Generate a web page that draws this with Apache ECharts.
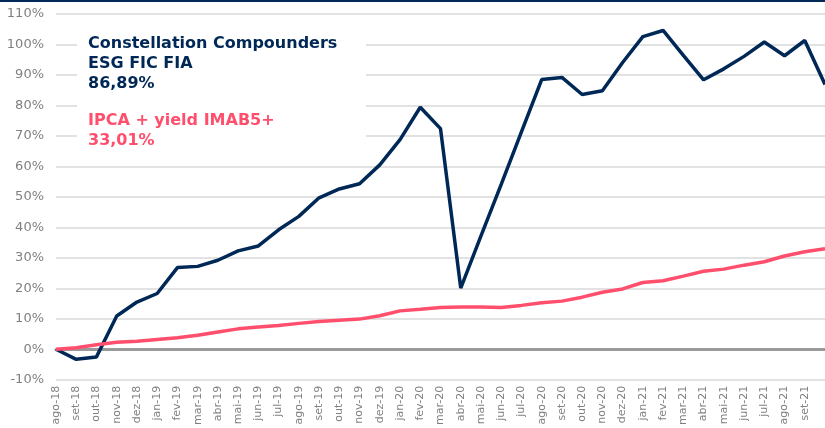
<!DOCTYPE html>
<html>
<head>
<meta charset="utf-8">
<script src="https://cdn.jsdelivr.net/npm/echarts@6/dist/echarts.min.js"></script>
<style>
  html, body { margin: 0; padding: 0; background: #fff; }
  #main { width: 825px; height: 428px; }
</style>
</head>
<body>
<div id="main"></div>
<script>
// months, ago-18 .. out-21 (last one sits just past the right edge)
const months = ['ago-18','set-18','out-18','nov-18','dez-18',
  'jan-19','fev-19','mar-19','abr-19','mai-19','jun-19','jul-19','ago-19','set-19','out-19','nov-19','dez-19',
  'jan-20','fev-20','mar-20','abr-20','mai-20','jun-20','jul-20','ago-20','set-20','out-20','nov-20','dez-20',
  'jan-21','fev-21','mar-21','abr-21','mai-21','jun-21','jul-21','ago-21','set-21','out-21'];

const fundo = [0, -3.3, -2.5, 10.9, 15.5, 18.3, 26.8, 27.2, 29.2, 32.3, 33.9, 39.2, 43.6, 49.7, 52.6, 54.3, 60.5,
  68.8, 79.4, 72.4, 20.1, 37.2, 54.1, 71.3, 88.5, 89.2, 83.6, 84.8, 94.1,
  102.6, 104.6, 96.4, 88.4, 92.0, 96.1, 100.8, 96.3, 101.3, 86.89];

const ipca = [0, 0.5, 1.5, 2.3, 2.6, 3.2, 3.8, 4.6, 5.7, 6.7, 7.3, 7.8, 8.5, 9.1, 9.5, 9.9, 11.0,
  12.6, 13.1, 13.7, 13.9, 13.9, 13.7, 14.4, 15.3, 15.8, 17.1, 18.7, 19.8,
  21.9, 22.5, 24.0, 25.6, 26.3, 27.6, 28.7, 30.6, 32.0, 33.01];

const navy = '#002856';
const pink = '#ff4f6d';

let chart = echarts.init(document.getElementById('main'));

let option = {
  animation: false,
  grid: { left: 56, right: -5, top: 14, bottom: 48 },
  xAxis: [
    {
      // zero line
      type: 'category',
      data: months,
      boundaryGap: false,
      axisLine: { onZero: true, lineStyle: { color: '#9a9a9a', width: 3 } },
      axisTick: { show: false },
      axisLabel: { show: false },
      splitLine: { show: false }
    },
    {
      type: 'category',
      data: months,
      position: 'bottom',
      boundaryGap: false,
      axisLine: { show: false, onZero: false },
      axisTick: { show: false },
      axisLabel: {
        rotate: 90,
        margin: 6,
        color: '#808080',
        fontFamily: 'DejaVu Sans',
        fontSize: 11,
        interval: 0,
        formatter: (v, i) => i === months.length - 1 ? '' : v
      },
      splitLine: { show: false }
    }
  ],
  yAxis: {
    type: 'value',
    min: -10,
    max: 110,
    interval: 10,
    axisLine: { show: false },
    axisTick: { show: false },
    axisLabel: {
      formatter: '{value}%',
      color: '#808080',
      fontFamily: 'DejaVu Sans',
      fontSize: 13,
      margin: 12
    },
    splitLine: { lineStyle: { color: '#d9d9d9', width: 1.5 } }
  },
  series: [
    {
      name: 'Constellation Compounders ESG FIC FIA',
      type: 'line',
      data: fundo,
      symbol: 'none',
      lineStyle: { color: navy, width: 3.5 },
      z: 3
    },
    {
      name: 'IPCA + yield IMAB5+',
      type: 'line',
      data: ipca,
      symbol: 'none',
      lineStyle: { color: pink, width: 3.5 },
      z: 4
    }
  ],
  graphic: [
    { type: 'rect', left: 0, top: 0, shape: { width: 825, height: 2 }, style: { fill: navy }, z: 100 },
    { type: 'rect', left: 77, top: 28, shape: { width: 289, height: 130 }, style: { fill: '#fff' }, z: 100 },
    {
      type: 'text', left: 88, top: 34, z: 101,
      style: {
        text: 'Constellation Compounders\nESG FIC FIA\n86,89%',
        fill: navy, font: 'bold 16px "DejaVu Sans"', lineHeight: 20
      }
    },
    {
      type: 'text', left: 88, top: 111, z: 101,
      style: {
        text: 'IPCA + yield IMAB5+\n33,01%',
        fill: pink, font: 'bold 16px "DejaVu Sans"', lineHeight: 20
      }
    }
  ]
};

chart.setOption(option);
</script>
</body>
</html>
